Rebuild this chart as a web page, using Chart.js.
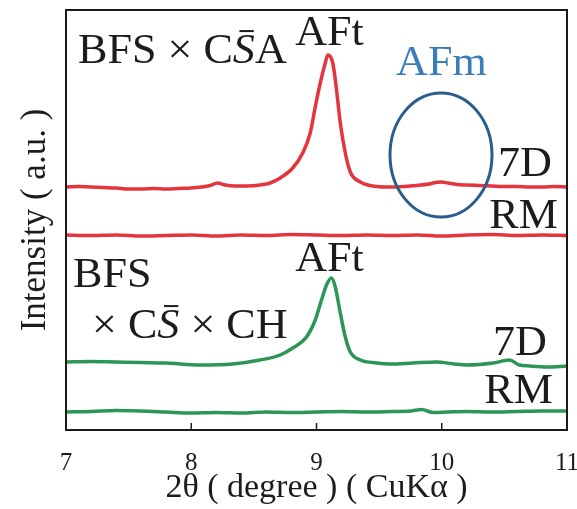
<!DOCTYPE html>
<html>
<head>
<meta charset="utf-8">
<script src="https://cdn.jsdelivr.net/npm/chart.js@4.4.0/dist/chart.umd.min.js"></script>
<style>
  html, body { margin: 0; padding: 0; background: #ffffff; }
  canvas { display: block; }
</style>
</head>
<body>
<canvas id="c" width="577" height="509"></canvas>
<script>
// ---- Data (2θ in degrees, intensity in arbitrary units with offsets) ----
const xTicks = [7, 8, 9, 10, 11];

const red7D_x = [7.00,7.10,7.20,7.30,7.40,7.50,7.60,7.70,7.80,7.90,8.00,8.08,8.15,8.21,8.27,8.35,8.45,8.55,8.63,8.71,8.81,8.89,8.95,8.99,9.03,9.07,9.09,9.13,9.16,9.19,9.23,9.27,9.35,9.48,9.59,9.70,9.80,9.90,9.95,10.00,10.05,10.12,10.20,10.30,10.40,10.50,10.60,10.70,10.80,10.90,11.00];
const red7D_y = [243,243.5,243,242.5,242,241,241,241.5,241,241.5,242,243,244.5,247,245,244,244,245,247,252,262,277,297,323,347,367,375,367,340,307,277,258,248,243.5,243,243.5,244.5,246,247.5,248,247,245.5,245,244.5,244,243.5,243.5,243,243,243.5,243];

const redRM_x = [7.00,7.20,7.40,7.60,7.80,8.00,8.20,8.40,8.60,8.80,9.00,9.20,9.40,9.60,9.80,10.00,10.20,10.40,10.60,10.80,11.00];
const redRM_y = [195,194.5,195,194,194.5,195,194,195,194.5,195.5,195,194.5,195,194.5,195,194,195,195.5,194.5,195,194.5];

const green7D_x = [7.00,7.20,7.40,7.60,7.80,8.07,8.33,8.55,8.71,8.81,8.92,8.99,9.04,9.08,9.12,9.15,9.19,9.23,9.27,9.35,9.48,9.59,9.77,9.96,10.10,10.20,10.41,10.54,10.62,10.70,10.84,11.00];
const green7D_y = [68,68.5,68,67.5,67,65,66,70,75,82,93,110,130,145,152,143,117,93,78,70,67,66,67,68,66,65,67,70,65,64,63,64];

const greenRM_x = [7.00,7.20,7.40,7.60,7.80,8.00,8.20,8.40,8.60,8.80,9.00,9.20,9.40,9.60,9.75,9.84,9.93,10.05,10.20,10.40,10.60,10.80,11.00];
const greenRM_y = [18,18.5,19.5,19,18,17,17.5,17,18,17.5,18,18.5,18,18.5,19,20.5,17.5,18,18.5,18,18.5,19,19];

// ---- helpers ----
const pts = (xs, ys) => xs.map((x, i) => ({ x: x, y: ys[i] }));
const RED = 'rgb(228,52,62)';
const GREEN = 'rgb(44,150,86)';
const INK = '#1c1c1c';
const SERIF = '"Liberation Serif", "DejaVu Serif", serif';

// Text annotations, anchored in data coordinates (x = 2θ, y = intensity at baseline)
const annotations = [
  { x: 7.096, y: 367, color: INK, segs: [{ t: 'BFS × C' }, { t: 'S', italic: true, bar: true }, { t: 'A' }] },
  { x: 8.83,  y: 385, color: INK, segs: [{ t: 'AFt' }] },
  { x: 9.635, y: 355, color: '#3c7cba', segs: [{ t: 'AFm' }] },
  { x: 10.880, y: 254, color: INK, align: 'right', segs: [{ t: '7D' }] },
  { x: 10.928, y: 202, color: INK, align: 'right', segs: [{ t: 'RM' }] },
  { x: 7.056, y: 143, color: INK, segs: [{ t: 'BFS' }] },
  { x: 7.208, y: 92,  color: INK, segs: [{ t: '× C' }, { t: 'S', italic: true, bar: true }, { t: ' × CH' }] },
  { x: 8.83,  y: 159, color: INK, segs: [{ t: 'AFt' }] },
  { x: 10.840, y: 75, color: INK, align: 'right', segs: [{ t: '7D' }] },
  { x: 10.888, y: 27, color: INK, align: 'right', segs: [{ t: 'RM' }] }
];
const ellipse = { x: 9.994, y: 275, rx: 51, ry: 62, color: '#2a5d8e' };

const decorPlugin = {
  id: 'decor',
  afterDatasetsDraw(chart) {
    const { ctx, chartArea: a, scales: { x, y } } = chart;
    ctx.save();
    // frame
    ctx.strokeStyle = '#1a1a1a';
    ctx.lineWidth = 2;
    ctx.strokeRect(a.left, a.top, a.right - a.left, a.bottom - a.top);
    // inward ticks on the bottom axis
    ctx.lineWidth = 1.5;
    xTicks.forEach(v => {
      if (v === x.min || v === x.max) return;
      const px = x.getPixelForValue(v);
      ctx.beginPath();
      ctx.moveTo(px, a.bottom);
      ctx.lineTo(px, a.bottom - 7);
      ctx.stroke();
    });
    // ellipse
    ctx.strokeStyle = ellipse.color;
    ctx.lineWidth = 3;
    ctx.beginPath();
    ctx.ellipse(x.getPixelForValue(ellipse.x), y.getPixelForValue(ellipse.y), ellipse.rx, ellipse.ry, 0, 0, Math.PI * 2);
    ctx.stroke();
    // labels
    const size = 42, sx = 1.05;
    ctx.textBaseline = 'alphabetic';
    ctx.textAlign = 'left';
    annotations.forEach(an => {
      const widths = an.segs.map(s => {
        ctx.font = (s.italic ? 'italic ' : '') + size + 'px ' + SERIF;
        return ctx.measureText(s.t).width;
      });
      const total = widths.reduce((p, c) => p + c, 0) * sx;
      const ax = x.getPixelForValue(an.x);
      const py = y.getPixelForValue(an.y);
      ctx.save();
      ctx.translate(an.align === 'right' ? ax - total : ax, py);
      ctx.scale(sx, 1);
      ctx.fillStyle = an.color;
      ctx.strokeStyle = an.color;
      let px = 0;
      an.segs.forEach((s, i) => {
        ctx.font = (s.italic ? 'italic ' : '') + size + 'px ' + SERIF;
        ctx.fillText(s.t, px, 0);
        const w = widths[i];
        if (s.bar) {
          ctx.lineWidth = 2;
          ctx.beginPath();
          ctx.moveTo(px + w * 0.3, -size * 0.76);
          ctx.lineTo(px + w * 0.95, -size * 0.76);
          ctx.stroke();
        }
        px += w;
      });
      ctx.restore();
    });
    ctx.restore();
  }
};

const lineDs = (label, data, color) => ({
  label: label,
  data: data,
  showLine: true,
  borderColor: color,
  backgroundColor: color,
  borderWidth: 3.5,
  pointRadius: 0,
  cubicInterpolationMode: 'monotone',
  fill: false
});

new Chart(document.getElementById('c'), {
  type: 'scatter',
  data: {
    datasets: [
      lineDs('BFS×CS̄A 7D', pts(red7D_x, red7D_y), RED),
      lineDs('BFS×CS̄A RM', pts(redRM_x, redRM_y), RED),
      lineDs('BFS×CS̄×CH 7D', pts(green7D_x, green7D_y), GREEN),
      lineDs('BFS×CS̄×CH RM', pts(greenRM_x, greenRM_y), GREEN)
    ]
  },
  options: {
    responsive: false,
    animation: false,
    devicePixelRatio: 1,
    layout: { padding: { top: 10, right: 10, left: 0, bottom: 0 } },
    plugins: { legend: { display: false }, tooltip: { enabled: false } },
    scales: {
      x: {
        type: 'linear',
        min: 7, max: 11,
        afterBuildTicks: s => { s.ticks = xTicks.map(v => ({ value: v })); },
        afterFit: s => { s.height = 79; s.paddingLeft = 0; s.paddingRight = 0; },
        grid: { display: false, drawTicks: false },
        border: { display: false },
        ticks: { color: INK, padding: 18, maxRotation: 0, autoSkip: false, font: { family: SERIF, size: 25 } },
        title: { display: true, text: '2θ ( degree ) ( CuKα )', color: INK, padding: { top: 0, bottom: 1 }, font: { family: SERIF, size: 34 } }
      },
      y: {
        type: 'linear',
        min: 0, max: 420,
        afterFit: s => { s.width = 66; },
        grid: { display: false, drawTicks: false },
        border: { display: false },
        ticks: { display: false },
        title: { display: true, text: 'Intensity ( a.u. )', color: INK, padding: { top: 15, bottom: 0 }, font: { family: SERIF, size: 35 } }
      }
    }
  },
  plugins: [decorPlugin]
});
</script>
</body>
</html>
